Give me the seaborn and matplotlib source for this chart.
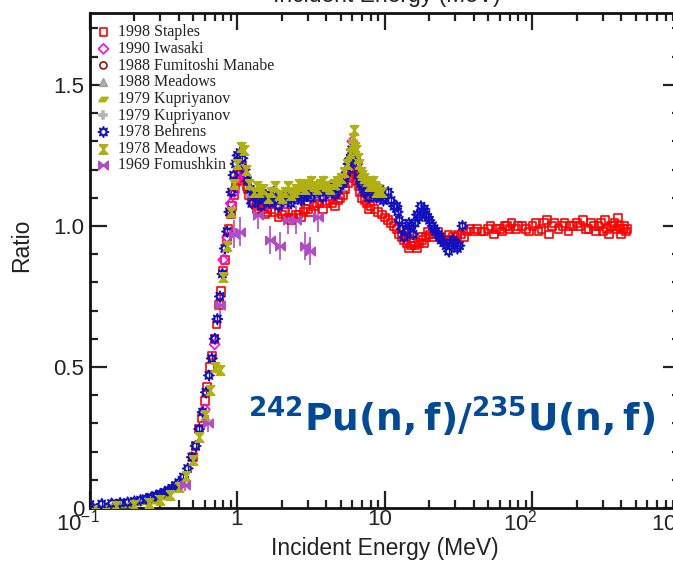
import numpy as np
import matplotlib
matplotlib.use("Agg")
import matplotlib.pyplot as plt
import matplotlib.transforms as mtransforms
from matplotlib.ticker import FixedLocator, FixedFormatter, LogLocator, MultipleLocator, FuncFormatter
import seaborn as sns

# # Data

staples_e = [0.50, 0.52, 0.55, 0.57, 0.60, 0.62, 0.65, 0.67, 0.70, 0.72, 0.75, 0.77, 0.80, 0.82, 0.85,
             0.87, 0.90, 0.92, 0.95, 0.97, 1.00, 1.02, 1.05, 1.07, 1.10, 1.12, 1.15, 1.17, 1.20, 1.25,
             1.30, 1.35, 1.40, 1.45, 1.50, 1.55, 1.60, 1.70, 1.80, 1.90, 2.00, 2.10, 2.20, 2.30, 2.40,
             2.50, 2.60, 2.70, 2.80, 2.90, 3.00, 3.15, 3.30, 3.45, 3.60, 3.80, 4.00, 4.20, 4.40, 4.60,
             4.80, 5.00, 5.20, 5.40, 5.60, 5.80, 6.00, 6.15, 6.30, 6.45, 6.60, 6.80, 7.00, 7.25, 7.50,
             7.75, 8.00, 8.50, 9.00, 9.50, 10.0, 10.5, 11.0, 11.5, 12.0, 12.5, 13.0, 13.5, 14.0, 14.5,
             15.0, 15.5, 16.0, 16.5, 17.0, 17.5, 18.0, 18.5, 19.0, 19.5, 20.0, 21.0, 22.0, 23.0, 24.0,
             25.0, 26.0, 27.0, 28.0, 29.0, 30.0, 31.0, 33.0, 34.5, 36.0, 38.0, 40.0, 42.0, 45.0, 47.0,
             50.0, 52.0, 55.0, 57.0, 60.0, 62.0, 65.0, 67.0, 70.0, 72.0, 77.0, 80.0, 85.0, 90.0, 95.0,
             100., 105., 110., 115., 120., 125., 130., 135., 140., 150., 160., 165., 175., 180., 190.,
             200., 210., 220., 230., 240., 250., 260., 270., 280., 290., 300., 310., 320., 330., 340.,
             350., 360., 370., 380., 390., 400., 410., 420., 430., 440.]
staples_r = [0.18, 0.22, 0.28, 0.32, 0.38, 0.43, 0.50, 0.54, 0.60, 0.65, 0.72, 0.77, 0.84, 0.88, 0.95,
             0.99, 1.04, 1.07, 1.11, 1.14, 1.16, 1.18, 1.19, 1.21, 1.18, 1.17, 1.14, 1.13, 1.11, 1.09,
             1.08, 1.06, 1.06, 1.07, 1.06, 1.04, 1.05, 1.06, 1.05, 1.03, 1.04, 1.05, 1.03, 1.02, 1.03,
             1.04, 1.04, 1.03, 1.05, 1.06, 1.06, 1.05, 1.07, 1.08, 1.08, 1.06, 1.08, 1.09, 1.08, 1.07,
             1.09, 1.10, 1.11, 1.13, 1.15, 1.17, 1.19, 1.20, 1.18, 1.16, 1.14, 1.12, 1.10, 1.09, 1.08,
             1.06, 1.07, 1.06, 1.05, 1.04, 1.03, 1.02, 1.01, 1.00, 0.99, 0.97, 0.96, 0.95, 0.94, 0.92,
             0.93, 0.94, 0.93, 0.92, 0.94, 0.96, 0.95, 0.94, 0.96, 0.98, 0.97, 0.96, 0.97, 0.98, 0.96,
             0.95, 0.95, 0.97, 0.95, 0.96, 0.96, 0.97, 0.97, 0.96, 0.98, 0.99, 0.98, 0.99, 0.98, 0.98,
             0.99, 1.00, 0.97, 0.99, 0.99, 0.98, 1.00, 1.00, 0.99, 1.01, 0.99, 1.00, 1.00, 0.99, 0.98,
             1.00, 1.01, 0.98, 0.99, 1.01, 1.02, 0.97, 1.00, 1.01, 0.99, 1.00, 1.01, 0.98, 1.00, 1.00,
             1.01, 1.00, 1.02, 0.99, 0.99, 1.01, 1.00, 0.98, 1.00, 1.01, 0.98, 1.02, 0.99, 0.97, 1.00,
             1.00, 1.01, 0.99, 1.03, 1.00, 0.97, 0.99, 1.00, 0.98, 0.99]

iwasaki_e = [0.60, 0.70, 0.80, 0.85, 0.90, 0.95, 1.00, 1.10, 1.30, 1.60, 2.00, 2.50, 3.00, 4.00, 5.00, 6.00, 6.50, 7.50, 9.00]
iwasaki_r = [0.35, 0.58, 0.88, 0.96, 1.08, 1.12, 1.17, 1.18, 1.10, 1.08, 1.08, 1.10, 1.11, 1.11, 1.14, 1.30, 1.22, 1.13, 1.10]

manabe_e = [14.1, 15.0]
manabe_r = [0.99, 0.98]

meadows88_e = [1.2, 1.6, 2.0, 3.0, 4.0, 5.0, 7.0]
meadows88_r = [1.12, 1.10, 1.09, 1.11, 1.12, 1.14, 1.15]

kupr1_e = [0.11, 0.13, 0.15, 0.17, 0.19, 0.22, 0.25, 0.28, 0.32]
kupr1_r = [0.005, 0.006, 0.008, 0.010, 0.012, 0.016, 0.020, 0.026, 0.038]

kupr2_e = [1.5, 2.5, 3.5]
kupr2_r = [1.12, 1.13, 1.12]

behrens_e = [0.10, 0.12, 0.14, 0.16, 0.18, 0.20, 0.22, 0.24, 0.26, 0.28, 0.30, 0.32, 0.34, 0.36, 0.38,
             0.40, 0.43, 0.46, 0.49, 0.52, 0.55, 0.58, 0.61, 0.64, 0.67, 0.70, 0.73, 0.76, 0.79, 0.82,
             0.85, 0.88, 0.91, 0.94, 0.97, 1.00, 1.04, 1.08, 1.12, 1.17, 1.22, 1.25, 1.30, 1.35, 1.40,
             1.45, 1.50, 1.55, 1.60, 1.65, 1.70, 1.75, 1.80, 1.90, 2.00, 2.10, 2.20, 2.30, 2.40, 2.50,
             2.60, 2.70, 2.80, 2.90, 3.00, 3.15, 3.30, 3.45, 3.60, 3.80, 4.00, 4.20, 4.40, 4.60, 4.80,
             5.00, 5.20, 5.35, 5.50, 5.65, 5.80, 5.95, 6.10, 6.25, 6.40, 6.55, 6.70, 6.85, 7.00, 7.25,
             7.50, 7.75, 8.00, 8.25, 8.50, 8.75, 9.00, 9.25, 9.50, 9.75, 10.0, 10.5, 11.0, 11.5, 12.0,
             12.2, 12.5, 13.0, 13.5, 14.0, 14.5, 15.0, 15.5, 16.0, 16.5, 17.0, 17.5, 18.0, 18.5, 19.0,
             19.5, 20.0, 21.0, 21.5, 22.0, 23.0, 23.5, 24.0, 25.0, 26.0, 27.0, 28.0, 29.0, 30.0, 31.0,
             32.0, 33.5]
behrens_r = [0.012, 0.014, 0.016, 0.018, 0.020, 0.024, 0.028, 0.033, 0.038, 0.044, 0.050, 0.056, 0.063, 0.070, 0.080,
             0.090, 0.110, 0.140, 0.180, 0.220, 0.280, 0.340, 0.410, 0.470, 0.530, 0.600, 0.670, 0.750, 0.830, 0.920,
             0.980, 1.050, 1.120, 1.180, 1.220, 1.250, 1.260, 1.240, 1.200, 1.160, 1.130, 1.080, 1.110, 1.120, 1.100,
             1.070, 1.100, 1.110, 1.090, 1.080, 1.100, 1.120, 1.090, 1.070, 1.100, 1.110, 1.090, 1.080, 1.100, 1.120,
             1.110, 1.090, 1.100, 1.130, 1.110, 1.100, 1.120, 1.130, 1.120, 1.100, 1.120, 1.140, 1.120, 1.110, 1.130,
             1.150, 1.150, 1.170, 1.190, 1.220, 1.240, 1.270, 1.260, 1.240, 1.220, 1.190, 1.170, 1.150, 1.140, 1.120,
             1.130, 1.100, 1.120, 1.140, 1.120, 1.100, 1.110, 1.130, 1.110, 1.090, 1.100, 1.120, 1.090, 1.070, 1.070,
             1.050, 1.020, 0.990, 0.960, 0.980, 1.010, 1.000, 0.970, 1.010, 1.040, 1.030, 1.070, 1.050, 1.060, 1.040,
             1.030, 1.020, 1.000, 0.990, 0.980, 0.970, 0.960, 0.950, 0.940, 0.930, 0.910, 0.930, 0.950, 0.940, 0.920,
             0.930, 1.000]

meadows78_e = [0.15, 0.20, 0.25, 0.30, 0.35, 0.40, 0.45, 0.50, 0.55, 0.60, 0.65, 0.70, 0.76, 0.80, 0.85,
               0.90, 0.95, 1.00, 1.05, 1.10, 1.15, 1.20, 1.30, 1.35, 1.40, 1.50, 1.60, 1.70, 1.80, 1.90,
               2.00, 2.10, 2.20, 2.30, 2.40, 2.50, 2.60, 2.70, 2.85, 3.00, 3.15, 3.30, 3.45, 3.60, 3.80,
               4.00, 4.25, 4.50, 4.75, 5.00, 5.25, 5.50, 5.80, 6.00, 6.10, 6.20, 6.30, 6.40, 6.55, 6.70,
               6.85, 7.00, 7.25, 7.50, 7.75, 8.00, 8.25, 8.50, 8.75, 9.00, 9.50]
meadows78_r = [0.008, 0.012, 0.018, 0.028, 0.045, 0.075, 0.115, 0.170, 0.250, 0.330, 0.420, 0.500, 0.490, 0.820, 0.930,
               1.050, 1.150, 1.220, 1.280, 1.270, 1.200, 1.150, 1.120, 1.140, 1.120, 1.130, 1.100, 1.120, 1.140, 1.110,
               1.100, 1.120, 1.140, 1.110, 1.120, 1.130, 1.150, 1.140, 1.130, 1.150, 1.160, 1.140, 1.130, 1.150, 1.160,
               1.140, 1.130, 1.150, 1.160, 1.170, 1.190, 1.220, 1.260, 1.290, 1.310, 1.340, 1.280, 1.270, 1.240, 1.220,
               1.190, 1.180, 1.170, 1.160, 1.140, 1.150, 1.160, 1.140, 1.120, 1.130, 1.120]

fomushkin_e = [0.44, 0.63, 0.76, 0.95, 1.04, 1.37, 1.66, 1.94, 2.20, 2.50, 2.85, 3.10, 3.50]
fomushkin_r = [0.08, 0.30, 0.72, 0.97, 0.98, 1.04, 0.95, 0.93, 1.02, 1.02, 0.93, 0.91, 1.03]
fomushkin_err = [0.02, 0.03, 0.04, 0.05, 0.05, 0.05, 0.05, 0.05, 0.05, 0.05, 0.05, 0.05, 0.05]

# # Marker shapes

parallelogram = [(-1.0, -0.45), (0.35, -0.45), (1.0, 0.45), (-0.35, 0.45), (-1.0, -0.45)]
bowtie_v = [(-0.9, 1.0), (0.9, 1.0), (-0.9, -1.0), (0.9, -1.0), (-0.9, 1.0)]
bowtie_h = [(-1.0, 0.9), (-1.0, -0.9), (1.0, 0.9), (1.0, -0.9), (-1.0, 0.9)]

olive = "#b0b010"
purple = "#b04cc8"

sns.set_style("ticks")
plt.rcParams["font.family"] = ["Liberation Sans", "DejaVu Sans"]

fig = plt.figure(figsize=(6.73, 5.66), dpi=100)
ax = fig.add_axes([0.1337, 0.1025, 0.8767, 0.8746])

# (label, x, y, marker, size, face, edge)
series = [
    ("1998 Staples", staples_e, staples_r, "s", 30, "none", "#ff0000"),
    ("1990 Iwasaki", iwasaki_e, iwasaki_r, "D", 26, "none", "#ff00ff"),
    ("1988 Fumitoshi Manabe", manabe_e, manabe_r, "o", 26, "none", "#a01010"),
    ("1988 Meadows", meadows88_e, meadows88_r, "^", 30, "#b0b0b0", "#a0a0a0"),
    ("1979 Kupriyanov", kupr1_e, kupr1_r, parallelogram, 45, olive, olive),
    ("1979 Kupriyanov", kupr2_e, kupr2_r, "P", 40, "#b4b4b4", "#b4b4b4"),
    ("1978 Behrens", behrens_e, behrens_r, (8, 1, 0), 55, "none", "#1010c0"),
    ("1978 Meadows", meadows78_e, meadows78_r, bowtie_v, 45, olive, olive),
    ("1969 Fomushkin", fomushkin_e, fomushkin_r, bowtie_h, 45, purple, purple),
]

ax.errorbar(behrens_e, behrens_r, yerr=0.02, fmt="none", ecolor="#1010c0", elinewidth=0.9, zorder=2)
ax.errorbar(meadows78_e, meadows78_r, yerr=0.02, fmt="none", ecolor=olive, elinewidth=0.9, zorder=2)
ax.errorbar(fomushkin_e, fomushkin_r, yerr=fomushkin_err, fmt="none", ecolor=purple, elinewidth=1.2, zorder=3)

for label, xs, ys, mk, sz, fc, ec in series:
    sns.scatterplot(x=xs, y=ys, marker=mk, s=sz, facecolor=fc, edgecolor=ec,
                    linewidth=1.2, ax=ax, label=label, zorder=3)

ax.set_xscale("log")
ax.set_xlim(0.1, 1000)
ax.set_ylim(0, 1.755)

ax.xaxis.set_major_locator(FixedLocator([0.1, 1, 10, 100, 1000]))
ax.xaxis.set_major_formatter(FixedFormatter([r"$\mathregular{10^{-1}}$", "1", "10",
                                             r"$\mathregular{10^{2}}$", r"$\mathregular{10^{3}}$"]))
ax.xaxis.set_minor_locator(LogLocator(base=10, subs=np.arange(2, 10), numticks=20))
ax.yaxis.set_major_locator(MultipleLocator(0.5))
ax.yaxis.set_minor_locator(MultipleLocator(0.1))
ax.yaxis.set_major_formatter(FuncFormatter(lambda v, p: "0" if v == 0 else f"{v:.1f}"))

ax.tick_params(which="both", direction="in", top=True, right=True, width=1.6, colors="#222222")
ax.tick_params(which="major", length=12, labelsize=16, pad=4)
ax.tick_params(axis="x", which="major", pad=1)
ax.tick_params(which="minor", length=6)
for sp in ax.spines.values():
    sp.set_linewidth(2.0)
    sp.set_color("#111111")

# the exponent labels sit a little left of their ticks in the original
for tk, dx in zip(ax.xaxis.get_major_ticks(), [-12, -1, -5, -12, -12]):
    off = mtransforms.ScaledTranslation(dx / 100, 0, fig.dpi_scale_trans)
    tk.label1.set_transform(tk.label1.get_transform() + off)

ax.set_xlabel("Incident Energy (MeV)", fontsize=16.5, labelpad=1, color="#222222")
ax.set_ylabel("Ratio", fontsize=16.5, color="#222222")
ax.yaxis.set_label_coords(-0.097, 0.53)

# top axis label, mostly cut off by the figure edge
ax.text(0.503, 1.012, "Incident Energy (MeV)", transform=ax.transAxes, ha="center", va="bottom",
        fontsize=16.5, color="#222222")

ax.text(0.268, 0.182, r"$\mathbf{{}^{242}Pu(n,f)/{}^{235}U(n,f)}$", transform=ax.transAxes,
        ha="left", va="center", fontsize=27, color="#004a98", math_fontfamily="dejavusans")

leg = ax.legend(loc="upper left", bbox_to_anchor=(0.012, 0.977), frameon=False, borderpad=0,
                borderaxespad=0, handlelength=0.8, handletextpad=0.5, labelspacing=0.04,
                prop={"family": "Liberation Serif", "size": 11.5})
for t in leg.get_texts():
    t.set_color("#222222")

fig.savefig("out.png", dpi=100)
